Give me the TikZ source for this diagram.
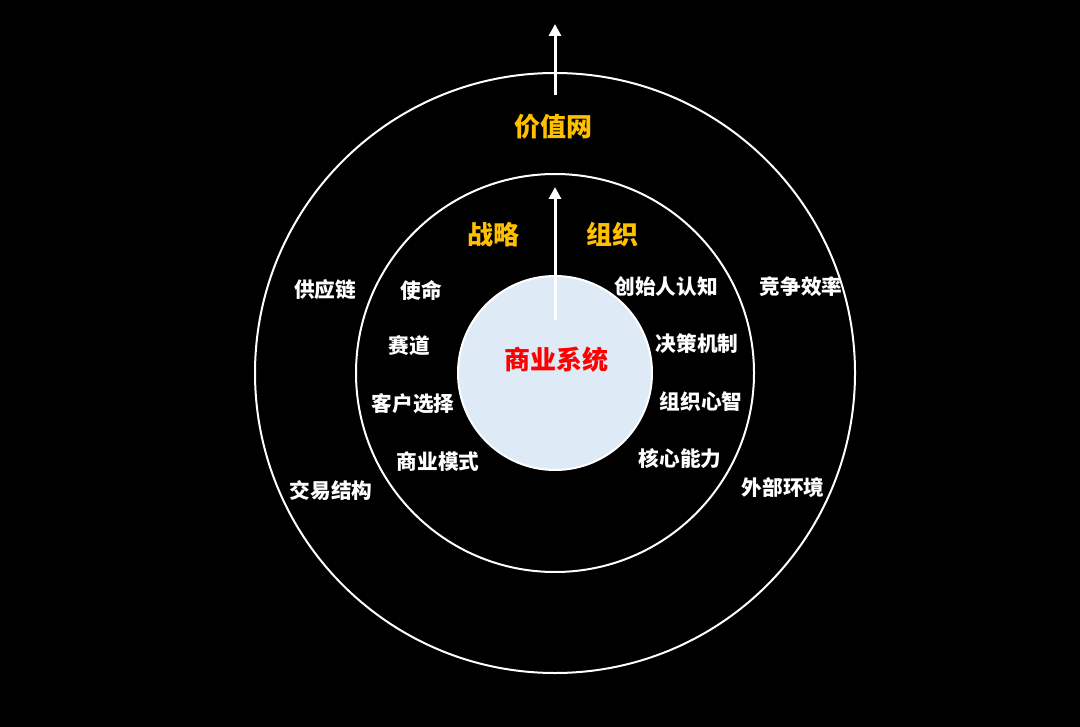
\documentclass[tikz,border=0pt]{standalone}
\usepackage{fontspec}
\newfontfamily\cjk{Noto Sans CJK SC}
\usetikzlibrary{arrows.meta}

\definecolor{ringgold}{RGB}{255,192,0}
\definecolor{corered}{RGB}{255,0,0}
\definecolor{corefill}{RGB}{222,235,247}

\tikzset{every picture/.style={line width=0.75pt}}
\tikzset{
  ring/.style={draw=white, line width=1.5},
  itemtext/.style={text=white, inner sep=0.75pt, font=\cjk\bfseries\fontsize{15.5}{18}\selectfont},
  headtext/.style={text=ringgold, inner sep=0.75pt, font=\cjk\bfseries\fontsize{19.5}{23}\selectfont},
  uparrow/.style={draw=white, line width=2.25, -{Triangle[width=9pt,length=9pt]}}
}

\begin{document}
\begin{tikzpicture}[x=0.75pt,y=0.75pt,yscale=-1,xscale=1]
%background, sets the size of the page
\fill [black] (0,0) rectangle (1080,727);

%Shape: Circle [id:outer]
\draw [ring] (555,373) circle (300);
%Shape: Circle [id:middle]
\draw [ring] (555,373) circle (199);
%Shape: Circle [id:core]
\draw [ring, fill=corefill] (555,373) circle (97);

%Arrow anchors
\coordinate (innerFrom) at (555,320);
\coordinate (innerTo) at (555,187);
\coordinate (outerFrom) at (555,95);
\coordinate (outerTo) at (555,24);
%Straight Lines [id:innerArrow]
\draw [uparrow] (innerFrom) -- (innerTo);
%Straight Lines [id:outerArrow]
\draw [uparrow] (outerFrom) -- (outerTo);

% Text Node
\node (core) [inner sep=0.75pt, text=corered, font=\cjk\bfseries\fontsize{19.5}{23}\selectfont] at (556,360) {商业系统};
% Text Node
\node (valuenet) [headtext] at (553,127) {价值网};
% Text Node
\node (strategy) [headtext] at (493,235) {战略};
% Text Node
\node (organization) [headtext] at (612,235) {组织};

% Text Node
\node (supply) [itemtext] at (325,290) {供应链};
% Text Node
\node (mission) [itemtext] at (421,290) {使命};
% Text Node
\node (track) [itemtext] at (409,346) {赛道};
% Text Node
\node (customer) [itemtext] at (413,404) {客户选择};
% Text Node
\node (model) [itemtext] at (438,462) {商业模式};
% Text Node
\node (deal) [itemtext] at (331,491) {交易结构};

% Text Node
\node (founder) [itemtext] at (666,287) {创始人认知};
% Text Node
\node (compete) [itemtext] at (801,287) {竞争效率};
% Text Node
\node (decision) [itemtext] at (697,344) {决策机制};
% Text Node
\node (mind) [itemtext] at (701,402) {组织心智};
% Text Node
\node (ability) [itemtext] at (680,459) {核心能力};
% Text Node
\node (environment) [itemtext] at (783,488) {外部环境};

\end{tikzpicture}
\end{document}
